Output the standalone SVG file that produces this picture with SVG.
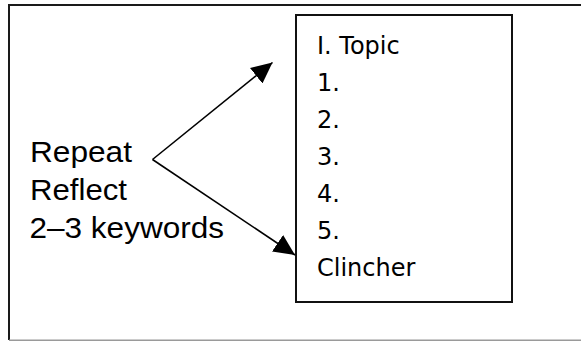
<svg xmlns="http://www.w3.org/2000/svg" width="581" height="341" viewBox="0 0 581 341">
  <style>
    .frame { fill: none; stroke: #1a1a1a; stroke-width: 2; }
    .frame-bottom { fill: none; stroke: #9a9a9a; stroke-width: 1.5; }
    .box { fill: #ffffff; stroke: #111111; stroke-width: 2; }
    .lbl { font-family: "Liberation Sans", Arial, sans-serif; font-size: 30px; fill: #000000; }
    .item { font-family: "Comic Sans MS", "DejaVu Sans", sans-serif; font-size: 24px; fill: #000000; }
    .conn { stroke: #000000; stroke-width: 1.6; fill: none; }
  </style>
  <defs>
    <marker id="ah" markerUnits="userSpaceOnUse" markerWidth="22" markerHeight="20" refX="21" refY="10" orient="auto">
      <path d="M0,0 L21,10 L0,20 z" fill="#000000"/>
    </marker>
  </defs>
  <rect width="581" height="341" fill="#ffffff"/>
  <g id="frame">
    <path class="frame" d="M9,340 L9,5 L581,5"/>
    <path class="frame-bottom" d="M9,340.2 L581,340.2"/>
  </g>
  <g id="keywords-label">
    <text class="lbl" x="30" y="162" textLength="102" lengthAdjust="spacingAndGlyphs">Repeat</text>
    <text class="lbl" x="30" y="200" textLength="97" lengthAdjust="spacingAndGlyphs">Reflect</text>
    <text class="lbl" x="29.5" y="237.5" textLength="194.5" lengthAdjust="spacingAndGlyphs">2–3 keywords</text>
  </g>
  <g id="outline-box">
    <rect class="box" x="296" y="15" width="216" height="287"/>
    <text class="item" x="317" y="54">I. Topic</text>
    <text class="item" x="317" y="91">1.</text>
    <text class="item" x="317" y="128">2.</text>
    <text class="item" x="317" y="165">3.</text>
    <text class="item" x="317" y="202">4.</text>
    <text class="item" x="317" y="239">5.</text>
    <text class="item" x="317" y="276">Clincher</text>
  </g>
  <g id="connectors">
    <line class="conn" x1="152.5" y1="159.5" x2="272.5" y2="62.5" marker-end="url(#ah)"/>
    <line class="conn" x1="152.5" y1="159.5" x2="295" y2="255" marker-end="url(#ah)"/>
  </g>
</svg>
